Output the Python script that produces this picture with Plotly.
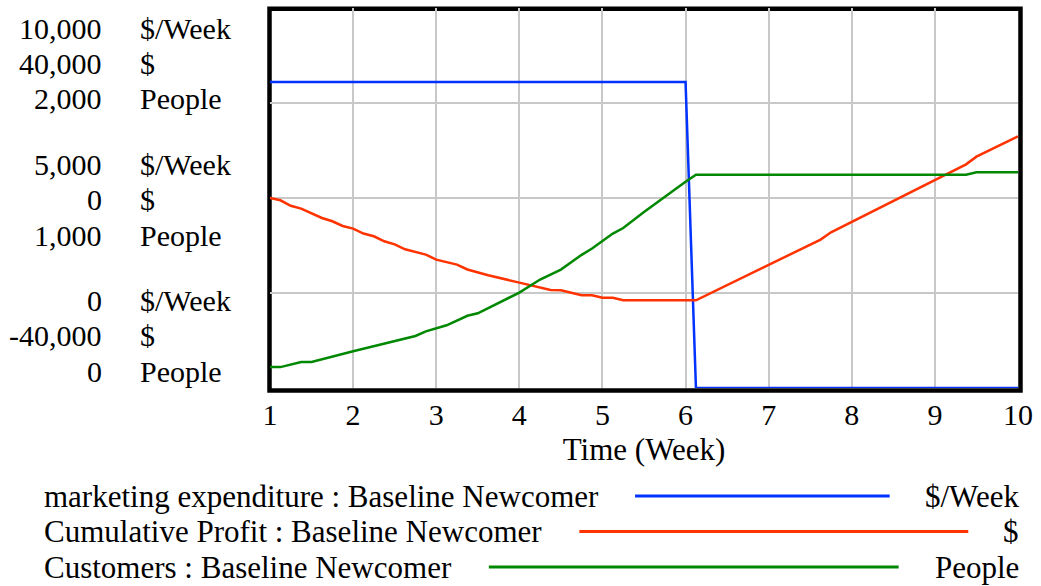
import plotly.graph_objects as go

# ---------------- data ----------------
mk_time = [1, 6, 6.125, 10]
mk_values = [8050, 8050, 0, 0]

profit_time = [1.0, 1.125, 1.25, 1.375, 1.625, 1.75, 1.875, 2.0, 2.125, 2.25, 2.375, 2.5,
               2.625, 2.875, 3.0, 3.25, 3.375, 3.625, 4.0, 4.375, 4.5, 4.75, 4.875, 5.0,
               5.125, 5.25, 6.125, 7.0, 7.625, 7.75, 9.0, 9.375, 9.5, 9.875, 10.0]
profit_values = [0, -484, -1640, -2230, -4210, -4900, -5890, -6440, -7490, -8060, -9110, -9750,
                 -10800, -11910, -12970, -14020, -15050, -16270, -17810, -19370, -19430, -20480, -20480, -21010,
                 -21010, -21530, -21530, -14020, -8760, -7220, 3730, 7090, 8710, 11940, 12990]

cust_time = [1.0, 1.125, 1.375, 1.5, 2.0, 2.75, 2.875, 3.125, 3.375, 3.5, 4.0, 4.25, 4.5,
             4.75, 4.875, 5.125, 5.25, 5.375, 5.5, 6.0, 6.125, 9.375, 9.5, 10.0]
cust_values = [110, 110, 137, 137, 193, 274, 298, 330, 380, 393, 502, 571, 623,
               701, 734, 813, 842, 883, 926, 1085, 1123, 1123, 1135, 1135]

x_ticks = [1, 2, 3, 4, 5, 6, 7, 8, 9, 10]
mk_scale = [10000, 5000, 0]
profit_scale = [40000, 0, -40000]
cust_scale = [2000, 1000, 0]
units = ["$/Week", "$", "People"]
series_names = ["marketing expenditure : Baseline Newcomer",
                "Cumulative Profit : Baseline Newcomer",
                "Customers : Baseline Newcomer"]

# ---------------- styling ----------------
W, H = 1041, 586
L, R, T, B = 270, 19, 8, 198
PW, PH = W - L - R, H - T - B
FONT = "Liberation Serif"
FS = 30
FS_LEG = 31
BLUE, RED, GREEN = "#0033ff", "#ff3300", "#008800"
colors = [BLUE, RED, GREEN]


def px_x(px):
    return (px - L) / PW


def px_y(py):
    return (H - B - py) / PH


fig = go.Figure()
fig.add_trace(go.Scatter(x=mk_time, y=mk_values, mode="lines", yaxis="y",
                         line=dict(color=BLUE, width=2.5), showlegend=False))
fig.add_trace(go.Scatter(x=profit_time, y=profit_values, mode="lines", yaxis="y2",
                         line=dict(color=RED, width=2.5), showlegend=False))
fig.add_trace(go.Scatter(x=cust_time, y=cust_values, mode="lines", yaxis="y3",
                         line=dict(color=GREEN, width=2.5), showlegend=False))

annotations = []
# left scale labels (three stacked groups)
group_centers = [63, 199, 335]
row_offsets = [-35, 0, 36]
for gi, gc in enumerate(group_centers):
    vals = [mk_scale[gi], profit_scale[gi], cust_scale[gi]]
    for ri, v in enumerate(vals):
        py = gc + row_offsets[ri]
        annotations.append(dict(x=px_x(103), y=px_y(py), xref="paper", yref="paper",
                                text=f"{v:,}", showarrow=False, xanchor="right",
                                yanchor="middle", font=dict(family=FONT, size=FS, color="black")))
        annotations.append(dict(x=px_x(137), y=px_y(py), xref="paper", yref="paper",
                                text=units[ri], showarrow=False, xanchor="left",
                                yanchor="middle", font=dict(family=FONT, size=FS, color="black")))

# custom legend
legend_rows = [496, 531.5, 567]
legend_lines = [(637, 893), (581, 972), (490, 902)]
shapes = []
for i, py in enumerate(legend_rows):
    annotations.append(dict(x=px_x(41), y=px_y(py), xref="paper", yref="paper",
                            text=series_names[i], showarrow=False, xanchor="left",
                            yanchor="middle", font=dict(family=FONT, size=FS_LEG, color="black")))
    annotations.append(dict(x=px_x(1025), y=px_y(py), xref="paper", yref="paper",
                            text=units[i], showarrow=False, xanchor="right",
                            yanchor="middle", font=dict(family=FONT, size=FS_LEG, color="black")))
    x0, x1 = legend_lines[i]
    shapes.append(dict(type="line", xref="paper", yref="paper",
                       x0=px_x(x0), x1=px_x(x1), y0=px_y(py), y1=px_y(py),
                       line=dict(color=colors[i], width=3)))

# plot border
shapes.append(dict(type="rect", xref="paper", yref="paper", layer="between",
                   x0=px_x(269.5), x1=px_x(1024.5), y0=px_y(390.5), y1=px_y(8.8),
                   line=dict(color="black", width=4.5), fillcolor="rgba(0,0,0,0)"))

fig.update_layout(
    width=W, height=H,
    margin=dict(l=L, r=R, t=T, b=B),
    paper_bgcolor="white", plot_bgcolor="white",
    font=dict(family=FONT, size=FS, color="black"),
    xaxis=dict(range=[1, 10], tickvals=x_ticks, ticktext=[str(v) for v in x_ticks],
               showgrid=True, gridcolor="#c8c8c8", gridwidth=2, zeroline=False,
               showline=False, ticks="", ticklabelstandoff=6,
               tickfont=dict(family=FONT, size=FS, color="black"),
               title=dict(text="Time (Week)", standoff=8,
                          font=dict(family=FONT, size=31, color="black"))),
    yaxis=dict(range=[0, 10000], tick0=0, dtick=2500, showgrid=True, gridcolor="#c8c8c8",
               gridwidth=2, zeroline=False, showticklabels=False, ticks="", showline=False),
    yaxis2=dict(range=[-40000, 40000], overlaying="y", visible=False, showgrid=False,
                zeroline=False),
    yaxis3=dict(range=[0, 2000], overlaying="y", visible=False, showgrid=False,
                zeroline=False),
    annotations=annotations,
    shapes=shapes,
)

fig.write_html("out.html", config={"displayModeBar": False},
               post_script="document.body.style.margin='0px';document.body.style.padding='0px';")
